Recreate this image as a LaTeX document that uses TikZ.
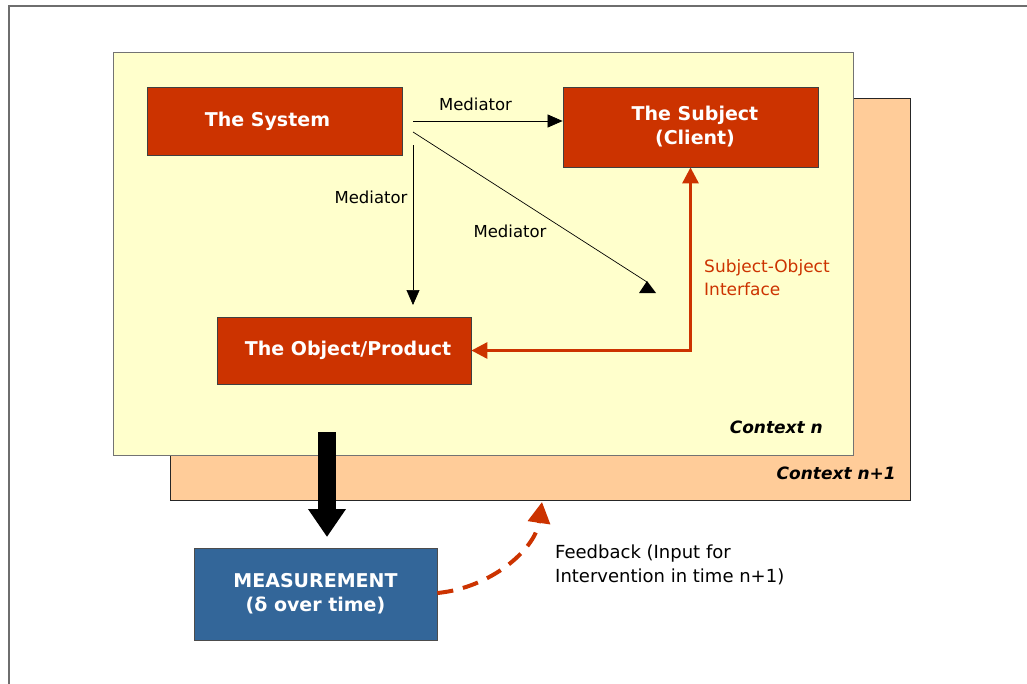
\documentclass[tikz,border=0pt]{standalone}
\usepackage{fontspec}
\setmainfont{DejaVu Sans}
\usetikzlibrary{arrows.meta}
\definecolor{boxred}{HTML}{CC3300}
\definecolor{boxblue}{HTML}{336699}
\definecolor{ctxyellow}{HTML}{FFFFCC}
\definecolor{ctxpeach}{HTML}{FFCC99}
\definecolor{framegray}{HTML}{6E6E6E}
\begin{document}
\begin{tikzpicture}[x=1pt,y=-1pt,
  redbox/.style={draw=black!75, line width=0.8pt, fill=boxred, text=white,
    font=\fontsize{19}{24}\selectfont\bfseries, align=center, inner sep=0pt},
  bluebox/.style={redbox, fill=boxblue, draw=black!70},
  lbl/.style={font=\fontsize{16.5}{22}\selectfont, inner sep=0pt, text=black},
  ctxlbl/.style={font=\fontsize{17}{22}\selectfont\bfseries\itshape, inner sep=0pt, anchor=east},
  thinarrow/.style={draw=black, line width=0.7pt, -{Triangle[length=15pt,width=13pt]}},
  ifarrow/.style={draw=boxred, line width=3pt, {Triangle[length=16pt,width=16pt]}-{Triangle[length=16pt,width=16pt]}},
  bigarrow/.style={draw=black, line width=18pt, -{Triangle[length=28pt,width=36pt]}},
  fbarrow/.style={draw=boxred, line width=4pt, dash pattern=on 16pt off 10pt, -{Triangle[length=21pt,width=22pt]}}
]
\useasboundingbox (0,0) rectangle (1027,683);
\fill[white] (0,0) rectangle (1027,683);
% outer frame (cut off at right and bottom)
\draw[framegray, line width=1.6pt] (9,700) -- (9,6) -- (1040,6);
% contexts
\draw[fill=ctxpeach, draw=black!85, line width=0.8pt] (170,98) rectangle (910,500);
\draw[fill=ctxyellow, draw=black!55, line width=0.8pt] (113,52) rectangle (853,455);
\node[ctxlbl] (cn) at (823,427) {Context n};
\node[ctxlbl] (cn1) at (896,473) {Context n+1};
% boxes
\node[redbox, minimum width=255pt, minimum height=68pt] (sys) at (274.5,121) {\hspace*{-14pt}The System};
\node[redbox, minimum width=255pt, minimum height=80pt] (subj) at (690.5,127) {\hspace*{9pt}The Subject\\\hspace*{9pt}(Client)};
\node[redbox, minimum width=254pt, minimum height=67pt] (obj) at (344,350.5) {\hspace*{8pt}The Object/Product};
\node[bluebox, minimum width=243pt, minimum height=92pt] (meas) at (315.5,594) {MEASUREMENT\\(δ over time)};
% mediators
\coordinate (s1) at (413,121);
\coordinate (s2) at (413,145);
\coordinate (v1) at (413,305);
\coordinate (s3) at (413,132);
\coordinate (d1) at (647,282);
\draw[thinarrow] (s1) -- (s1 -| subj.west);
\draw[thinarrow] (s2) -- (v1);
\draw[draw=black, line width=0.7pt] (s3) -- (d1);
\fill[black] (647,281) -- (656,293) -- (639,293) -- cycle;
\node[lbl] (m1) at (475.5,104) {Mediator};
\node[lbl] (m2) at (371,197) {Mediator};
\node[lbl] (m3) at (510,231) {Mediator};
% interface
\draw[ifarrow] (obj.east) -| (subj.south);
\node[font=\fontsize{17}{23}\selectfont, text=boxred, align=left, anchor=west, inner sep=0pt] (ifl) at (704,277.5) {Subject-Object\\Interface};
% measurement arrow
\coordinate (b1) at (327,432);
\coordinate (b2) at (327,537);
\draw[bigarrow] (b1) -- (b2);
% feedback
\coordinate (f2) at (542,502);
\draw[fbarrow] (meas.east |- 0,593) .. controls (490,588) and (535,550) .. (f2);
\node[font=\fontsize{18}{24}\selectfont, align=left, anchor=west, inner sep=0pt] (fb) at (555,565) {Feedback (Input for\\Intervention in time n+1)};
\end{tikzpicture}
\end{document}
